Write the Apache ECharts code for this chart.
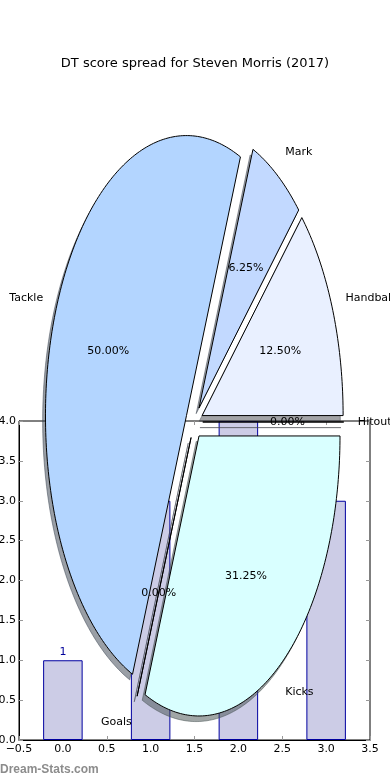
<!DOCTYPE html>
<html><head><meta charset="utf-8">
<script src="https://cdn.jsdelivr.net/npm/echarts@6/dist/echarts.min.js"></script>
<style>html,body{margin:0;padding:0;background:#fff}#c{width:390px;height:780px}</style>
</head><body><div id="c"></div>
<script>
// ---- data ----
const chartTitle = 'DT score spread for Steven Morris (2017)';
const pieLabels = ['Handball', 'Mark', 'Tackle', 'Goals', 'Kicks', 'Hitout'];
const pieValues = [2, 1, 8, 0, 5, 0];
const pieColors = ['#e9f0ff', '#c2d9ff', '#b3d5ff', '#cde0ff', '#d9ffff', '#eef4ff'];
const barX = [0, 1, 2, 3];
const barValues = [1, 3, 4, 3];
const xTickMin = -0.5, xTickMax = 3.5, xTickStep = 0.5;
const yTickMin = 0, yTickMax = 4, yTickStep = 0.5;
const watermark = 'Dream-Stats.com';

// ---- pie layout (pixels) ----
const PIE = {cx: 194.3, cy: 422, rx: 141, ry: 280, explode: 0.06, labelDist: 1.1, pctDist: 0.6, shadow: 0.02};
const FONT = 'DejaVu Sans';

const total = pieValues.reduce((a, b) => a + b, 0);
const starts = [];
{ let c = 0; pieValues.forEach(v => { starts.push(c / total * 360); c += v; }); }

function hexToRgb(h) { return [parseInt(h.slice(1,3),16), parseInt(h.slice(3,5),16), parseInt(h.slice(5,7),16)]; }

function renderWedge(params, api) {
  const i = params.dataIndex;
  const v = api.value(0);
  const t1 = starts[i], t2 = t1 + v / total * 360;
  const tm = (t1 + t2) / 2 * Math.PI / 180;
  const ex = PIE.cx + PIE.explode * PIE.rx * Math.cos(tm);
  const ey = PIE.cy - PIE.explode * PIE.ry * Math.sin(tm);
  const pts = [[ex, ey]];
  if (v === 0) {
    const a = t1 * Math.PI / 180;
    pts.push([ex + PIE.rx * Math.cos(a), ey - PIE.ry * Math.sin(a)]);
  } else {
    const n = Math.max(2, Math.ceil(t2 - t1));
    for (let k = 0; k <= n; k++) {
      const a = (t1 + (t2 - t1) * k / n) * Math.PI / 180;
      pts.push([ex + PIE.rx * Math.cos(a), ey - PIE.ry * Math.sin(a)]);
    }
  }
  const dx = -PIE.shadow * PIE.rx, dy = PIE.shadow * PIE.ry;
  const sp = pts.map(p => [p[0] + dx, p[1] + dy]);
  const rgb = hexToRgb(pieColors[i]);
  const sc = 'rgba(' + rgb.map(c => Math.round(c * 0.3)).join(',') + ',0.5)';
  const lx = ex + PIE.labelDist * PIE.rx * Math.cos(tm);
  const ly = ey - PIE.labelDist * PIE.ry * Math.sin(tm);
  const px = ex + PIE.pctDist * PIE.rx * Math.cos(tm);
  const py = ey - PIE.pctDist * PIE.ry * Math.sin(tm);
  const pct = (v / total * 100).toFixed(2) + '%';
  return {
    type: 'group',
    children: [
      {type: 'polygon', shape: {points: sp}, z2: 0, style: {fill: sc, stroke: sc, lineWidth: 1}},
      {type: 'polygon', shape: {points: pts}, z2: 10, style: {fill: pieColors[i], stroke: '#000', lineWidth: 1}},
      {type: 'text', x: lx, y: ly, z2: 20, style: {text: pieLabels[i], fill: '#000', font: '11px "' + FONT + '"',
        align: (lx > PIE.cx ? 'left' : 'right'), verticalAlign: 'middle'}},
      {type: 'text', x: px, y: py, z2: 20, style: {text: pct, fill: '#000', font: '11px "' + FONT + '"',
        align: 'center', verticalAlign: 'middle'}}
    ]
  };
}

function fmt(v) { return v < 0 ? '\u2212' + Math.abs(v).toFixed(1) : v.toFixed(1); }

const chart = echarts.init(document.getElementById('c'), null, {renderer: 'canvas'});
const tickStyle = {inside: true, length: 4, lineStyle: {color: '#999', width: 1}};
chart.setOption({
  animation: false,
  backgroundColor: '#fff',
  title: {text: chartTitle, left: 'center', top: 52,
    textStyle: {fontFamily: FONT, fontSize: 13, fontWeight: 'normal', color: '#000'}},
  grid: {left: 19, right: 20, top: 421, bottom: 40, containLabel: false, outerBoundsMode: 'none',
    show: true, borderColor: '#000', borderWidth: 1, backgroundColor: 'transparent'},
  xAxis: [
    {type: 'value', min: xTickMin, max: xTickMax, interval: xTickStep, position: 'bottom',
      axisLine: {show: true, onZero: false, lineStyle: {color: '#000'}}, axisTick: tickStyle,
      axisLabel: {formatter: fmt, color: '#000', fontFamily: FONT, fontSize: 11, margin: 4, showMinLabel: true, showMaxLabel: true},
      splitLine: {show: false}},
    {type: 'value', min: xTickMin, max: xTickMax, interval: xTickStep, position: 'top',
      axisLine: {show: false, onZero: false}, axisTick: tickStyle, axisLabel: {show: false}, splitLine: {show: false}}
  ],
  yAxis: [
    {type: 'value', min: yTickMin, max: yTickMax, interval: yTickStep, position: 'left',
      axisLine: {show: true, onZero: false, lineStyle: {color: '#000'}}, axisTick: tickStyle,
      axisLabel: {formatter: fmt, color: '#000', fontFamily: FONT, fontSize: 11, margin: 3},
      splitLine: {show: false}},
    {type: 'value', min: yTickMin, max: yTickMax, interval: yTickStep, position: 'right',
      axisLine: {show: false, onZero: false}, axisTick: tickStyle, axisLabel: {show: false}, splitLine: {show: false}}
  ],
  series: [
    {type: 'bar', xAxisIndex: 0, yAxisIndex: 0, barWidth: 39.5, z: 2,
      data: barX.map((x, i) => [x, barValues[i]]),
      itemStyle: {color: '#ccccE6', borderColor: '#0000a0', borderWidth: 1},
      label: {show: true, position: 'top', distance: 3, color: '#00009a', fontFamily: FONT, fontSize: 11,
        formatter: p => String(p.value[1])}},
    {type: 'custom', coordinateSystem: 'none', z: 10, renderItem: renderWedge,
      data: pieValues.map((v, i) => ({name: pieLabels[i], value: [v]}))}
  ],
  graphic: [{type: 'text', left: 0, top: 764, z: 20,
    style: {text: watermark, fill: '#8c8c8c', font: 'bold 12px "Liberation Sans"'}}]
});
</script></body></html>
